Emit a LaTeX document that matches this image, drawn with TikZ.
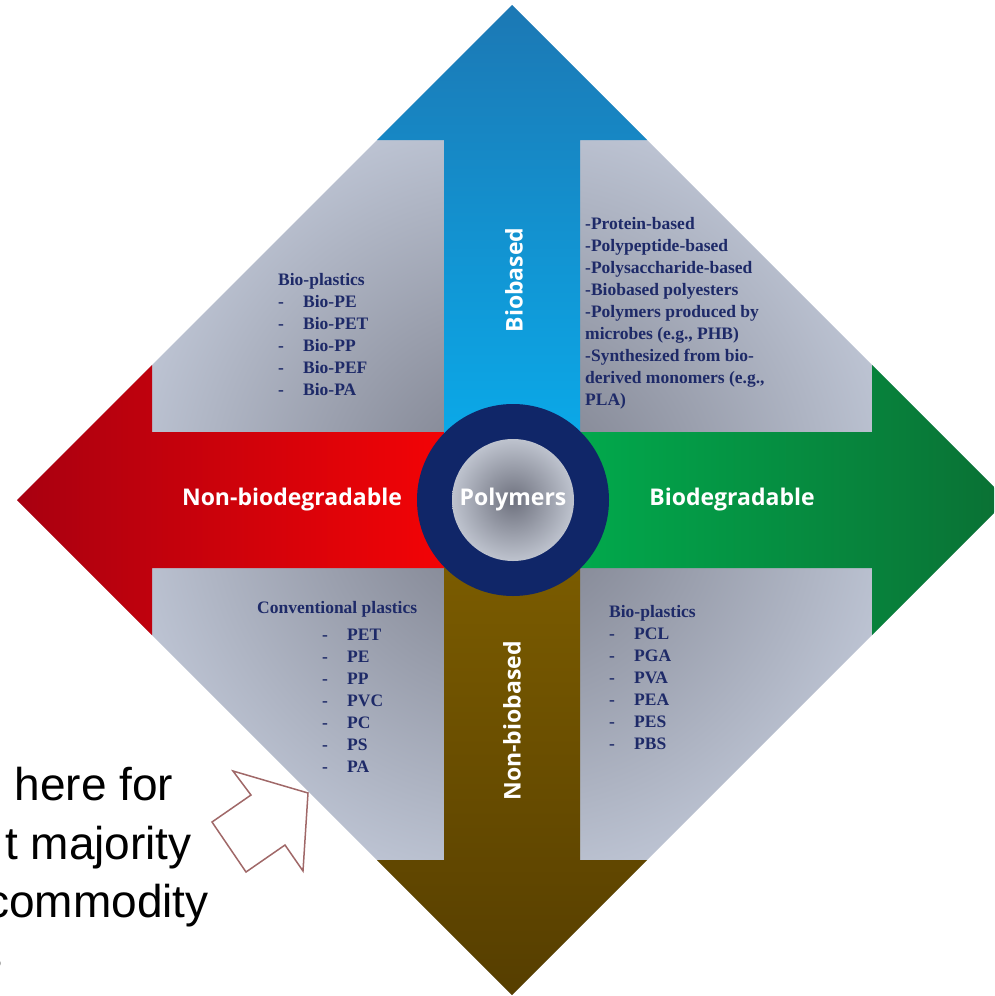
\documentclass[tikz,border=0pt]{standalone}
\usepackage{fontspec}
\setmainfont{Liberation Serif}
\newfontfamily\armfont{Open Sans}
\newfontfamily\notefont{Liberation Sans}
\definecolor{ringnavy}{RGB}{16,38,104}
\definecolor{listnavy}{RGB}{30,42,104}
\definecolor{paneldark}{RGB}{120,123,136}
\definecolor{panellight}{RGB}{208,216,232}
\definecolor{coredark}{RGB}{110,113,126}
\definecolor{corelight}{RGB}{190,195,206}
\definecolor{bluetop}{RGB}{28,120,180}
\definecolor{bluebottom}{RGB}{8,176,240}
\definecolor{reddark}{RGB}{168,0,16}
\definecolor{redbright}{RGB}{255,4,4}
\definecolor{greenbright}{RGB}{0,178,80}
\definecolor{greendark}{RGB}{10,112,52}
\definecolor{browntop}{RGB}{128,96,0}
\definecolor{brownbottom}{RGB}{86,62,0}
\definecolor{calloutred}{RGB}{160,104,104}
\newcommand{\listitem}[1]{\makebox[25pt][l]{-}#1}

\begin{document}
\begin{tikzpicture}[
    x=1pt, y=-1pt,
    armlabel/.style={
        text=white,
        font=\armfont\bfseries\fontsize{23}{27}\selectfont,
        inner sep=0pt
    },
    plasticlist/.style={
        text=listnavy,
        font=\bfseries\fontsize{17.5}{22}\selectfont,
        align=left,
        inner sep=0pt,
        anchor=north west
    },
    notetext/.style={
        font=\notefont\fontsize{46}{56}\selectfont,
        inner sep=0pt,
        anchor=base east
    }
]
\useasboundingbox (0,0) rectangle (994,996);
\clip (0,0) rectangle (994,996);

% GREY DIAMOND BEHIND THE ARROWS
\shade[inner color=paneldark, outer color=panellight]
    (512,5) -- (1007,500) -- (512,995) -- (17,500) -- cycle;

% HORIZONTAL ARROWS
\shade[left color=reddark, middle color=redbright, right color=redbright]
    (512,432) -- (152,432) -- (152,365) -- (17,500) -- (152,635) -- (152,568) -- (512,568) -- cycle;
\shade[left color=greenbright, middle color=greenbright!85!greendark, right color=greendark]
    (512,432) -- (872,432) -- (872,365) -- (1007,500) -- (872,635) -- (872,568) -- (512,568) -- cycle;

% VERTICAL ARROWS
\shade[top color=bluetop, bottom color=bluebottom]
    (444,500) -- (444,140) -- (377,140) -- (512,5) -- (647,140) -- (580,140) -- (580,500) -- cycle;
\shade[top color=browntop, bottom color=brownbottom]
    (444,500) -- (444,860) -- (377,860) -- (512,995) -- (647,860) -- (580,860) -- (580,500) -- cycle;

% CENTRE
\fill[ringnavy] (513,500) circle (96);
\shade[inner color=coredark, outer color=corelight] (513,500) circle (61);

\node[armlabel] (polymers) at (513,500) {Polymers};
\node[armlabel] (nonbiodeg) at (292,500) {Non-biodegradable};
\node[armlabel] (biodeg) at (732,500) {Biodegradable};
\node[armlabel, rotate=90] (biobased) at (514,280) {Biobased};
\node[armlabel, rotate=90] (nonbiobased) at (512,721) {Non-biobased};

% BIOBASED, NON-BIODEGRADABLE
\node[plasticlist] (biolist) at (278,273)
{Bio-plastics\\ \listitem{Bio-PE}\\ \listitem{Bio-PET}\\ \listitem{Bio-PP}\\
 \listitem{Bio-PEF}\\ \listitem{Bio-PA}};

% BIOBASED, BIODEGRADABLE
\node[plasticlist] (naturallist) at (585,217)
{-Protein-based\\ -Polypeptide-based\\ -Polysaccharide-based\\ -Biobased polyesters\\
 -Polymers produced by\\ microbes (e.g., PHB)\\ -Synthesized from bio-\\
 derived monomers (e.g.,\\ PLA)};

% NON-BIOBASED, NON-BIODEGRADABLE
\node[plasticlist] (convhead) at (257,601) {Conventional plastics};
\node[plasticlist] (convlist) at (322,629)
{\listitem{PET}\\ \listitem{PE}\\ \listitem{PP}\\ \listitem{PVC}\\
 \listitem{PC}\\ \listitem{PS}\\ \listitem{PA}};

% NON-BIOBASED, BIODEGRADABLE
\node[plasticlist] (degradlist) at (609,605)
{Bio-plastics\\ \listitem{PCL}\\ \listitem{PGA}\\ \listitem{PVA}\\
 \listitem{PEA}\\ \listitem{PES}\\ \listitem{PBS}};

% CALLOUT
\draw[calloutred, line width=1.5pt]
    (233,771) -- (308,793) -- (303,871) -- (285,845) -- (246,872) -- (212,822) -- (251,795) -- cycle;
\node[notetext] (noteone) at (173.5,800) {here for};
\node[notetext] (notetwo) at (192,859) {t majority};
\node[notetext] (notethree) at (209,917) {commodity};
\node[notetext] (notefour) at (3,970) {s};

\end{tikzpicture}
\end{document}
